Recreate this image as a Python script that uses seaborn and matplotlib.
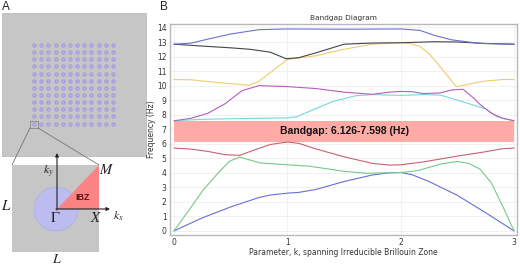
import numpy as np
import pandas as pd
import matplotlib
matplotlib.use('Agg')
import matplotlib.pyplot as plt
from matplotlib.patches import Rectangle, Circle, Polygon
import seaborn as sns

# band curves, (k, frequency)
band1_k = [0, .25, .5, .75, .85, 1, 1.1, 1.25, 1.5, 1.75, 1.9, 2, 2.1, 2.25, 2.5, 2.75, 3]
band1_f = [0, .9, 1.65, 2.3, 2.47, 2.6, 2.65, 2.85, 3.4, 3.85, 4.0, 4.02, 3.87, 3.4, 2.45, 1.25, 0]
band2_k = [0, .12, .26, .38, .49, .58, .76, 1, 1.2, 1.5, 1.7, 2, 2.15, 2.35, 2.5, 2.6, 2.7, 2.8, 2.9, 3]
band2_f = [0, 1.3, 2.84, 3.9, 4.8, 5.08, 4.68, 4.55, 4.45, 4.1, 3.97, 4.02, 4.15, 4.6, 4.78, 4.65, 4.25, 3.3, 1.7, 0]
band3_k = [0, .15, .3, .45, .58, .7, .85, 1, 1.1, 1.25, 1.5, 1.75, 1.9, 2, 2.2, 2.5, 2.75, 2.9, 3]
band3_f = [5.7, 5.63, 5.47, 5.25, 5.2, 5.55, 5.95, 6.12, 6.03, 5.65, 5.1, 4.65, 4.53, 4.55, 4.75, 5.15, 5.45, 5.66, 5.7]
band4_k = [0, .25, .5, .75, 1, 1.08, 1.2, 1.4, 1.6, 1.75, 2, 2.2, 2.35, 2.5, 2.75, 2.85, 3]
band4_f = [7.58, 7.68, 7.72, 7.75, 7.78, 7.85, 8.25, 8.9, 9.3, 9.38, 9.33, 9.38, 9.35, 9, 8.4, 7.85, 7.58]
band5_k = [0, .15, .3, .45, .6, .75, 1, 1.25, 1.5, 1.75, 1.9, 2, 2.1, 2.2, 2.35, 2.45, 2.55, 2.65, 2.7, 2.8, 2.9, 3]
band5_f = [7.58, 7.75, 8.1, 8.75, 9.65, 10, 9.93, 9.8, 9.55, 9.4, 9.55, 9.6, 9.58, 9.45, 9.5, 9.7, 9.75, 9.1, 8.7, 8.1, 7.75, 7.58]
band6_k = [0, .15, .4, .66, .75, .9, 1, 1.25, 1.5, 1.75, 2, 2.08, 2.17, 2.25, 2.32, 2.4, 2.49, 2.73, 2.9, 3]
band6_f = [10.42, 10.4, 10.2, 10.03, 10.3, 11.2, 11.8, 12.05, 12.5, 12.85, 12.95, 12.9, 12.7, 12.2, 11.57, 10.8, 9.93, 10.3, 10.42, 10.42]
band7_k = [0, .25, .5, .67, .85, .99, 1.1, 1.25, 1.5, 1.75, 2, 2.3, 2.5, 2.75, 3]
band7_f = [12.85, 12.72, 12.6, 12.5, 12.3, 11.85, 11.92, 12.25, 12.85, 12.93, 12.95, 13.02, 13, 12.9, 12.85]
band8_k = [0, .15, .3, .5, .75, 1, 1.5, 2, 2.17, 2.3, 2.45, 2.7, 3]
band8_f = [12.85, 12.92, 13.2, 13.55, 13.85, 13.9, 13.88, 13.9, 13.8, 13.45, 13.15, 12.9, 12.85]

band_k = [band1_k, band2_k, band3_k, band4_k, band5_k, band6_k, band7_k, band8_k]
band_f = [band1_f, band2_f, band3_f, band4_f, band5_f, band6_f, band7_f, band8_f]
band_colors = ['#6470d8', '#74c98c', '#c8626e', '#74d8d8', '#b85cc0', '#f0cc70', '#44444e', '#6a70d0']

gap_low = 6.126
gap_high = 7.598
gap_label = 'Bandgap: 6.126-7.598 (Hz)'
x_ticks = [0, 1, 2, 3]
y_ticks = list(range(15))

hole_cols = np.linspace(34, 113, 12)
hole_rows = np.linspace(45, 123.5, 12)

GRAY = '#c6c6c6'

sns.set_theme(style='white')
plt.rcParams['font.family'] = ['DejaVu Sans']
plt.rcParams['mathtext.fontset'] = 'stix'

W, H = 520, 266
fig = plt.figure(figsize=(W / 100, H / 100), dpi=100)

# panel A lives in pixel coordinates on a full-figure axes
pa = fig.add_axes([0, 0, 1, 1])
pa.set_xlim(0, W)
pa.set_ylim(H, 0)
pa.axis('off')
pa.add_patch(Rectangle((2, 13), 144, 143, fc=GRAY, ec='#b4b4b4', lw=0.5))

grid_x, grid_y = np.meshgrid(hole_cols, hole_rows)
holes = pd.DataFrame({'x': grid_x.ravel(), 'y': grid_y.ravel()})
sns.scatterplot(data=holes, x='x', y='y', ax=pa, s=5.5, color='#bcb8e0',
                edgecolor='#9d94e4', linewidth=0.7, legend=False)
pa.set_xlabel('')
pa.set_ylabel('')

pa.add_patch(Rectangle((30, 121), 8, 7, fc='none', ec='#777777', lw=0.5))
pa.plot([30, 12], [128, 165], color='#777777', lw=0.6)
pa.plot([38, 99], [128, 165], color='#777777', lw=0.6)

pa.add_patch(Rectangle((12, 165), 87, 87, fc=GRAY, ec='none'))
pa.add_patch(Circle((56, 209), 22, fc='#bcbcf0', ec='#b0b0e0', lw=0.5))
pa.add_patch(Polygon([(57, 209), (99, 209), (99, 165)], fc='#fa8484', ec='none'))
pa.annotate('', xy=(57, 153), xytext=(57, 210),
            arrowprops=dict(arrowstyle='-|>', color='#222222', lw=0.8, mutation_scale=5, shrinkA=0, shrinkB=0))
pa.annotate('', xy=(110, 209), xytext=(56, 209),
            arrowprops=dict(arrowstyle='-|>', color='#222222', lw=0.8, mutation_scale=5, shrinkA=0, shrinkB=0))

pa.text(83, 198, 'IBZ', fontsize=6.5, fontweight='bold', color='#5a1414', ha='center', va='center',
        family='Liberation Sans')
pa.text(48, 172, r'$k_y$', fontsize=8.5, ha='center', va='center', color='#222222')
pa.text(118, 216, r'$k_x$', fontsize=8.5, ha='center', va='center', color='#222222')
pa.text(107, 169, r'$M$', fontsize=10.5, ha='center', va='center', color='#222222')
pa.text(96, 218, r'$X$', fontsize=10.5, ha='center', va='center', color='#222222')
pa.text(55, 218, r'$\Gamma$', fontsize=10.5, ha='center', va='center', color='#222222')
pa.text(6, 205, r'$L$', fontsize=10.5, ha='center', va='center', color='#222222')
pa.text(57, 259, r'$L$', fontsize=10, ha='center', va='center', color='#222222')
pa.text(2, 7.5, 'A', fontsize=8.5, ha='left', va='center', family='Liberation Sans', color='#222222')
pa.text(160, 7.5, 'B', fontsize=8.5, ha='left', va='center', family='Liberation Sans', color='#222222')

# panel B, the band diagram
ax = fig.add_axes([170 / W, 1 - 235 / H, 347 / W, 211 / H])
rows = []
for i, (ks, fs) in enumerate(zip(band_k, band_f)):
    rows.append(pd.DataFrame({'k': ks, 'f': fs, 'band': i}))
bands = pd.concat(rows, ignore_index=True)

ax.axhspan(gap_low, gap_high, xmin=4 / 347, xmax=344 / 347, color='#ffaaa4', lw=0, zorder=1)
sns.lineplot(data=bands, x='k', y='f', hue='band', palette=band_colors, ax=ax,
             lw=0.8, legend=False, estimator=None, sort=False, zorder=3)
ax.text(1.5, (gap_low + gap_high) / 2, gap_label, fontsize=7.5, fontweight='bold', ha='center',
        va='center', family='Liberation Sans', color='#111111', zorder=4)

ax.set_xlim(-0.035, 3.026)
ax.set_ylim(-0.28, 14.24)
ax.set_xticks(x_ticks)
ax.set_yticks(y_ticks)
ax.grid(True, color='#ececec', lw=0.5)
ax.set_axisbelow(True)
ax.tick_params(axis='both', labelsize=5.5, length=1.5, width=0.4, pad=2.5, colors='#333333', direction='in')
ax.set_title('Bandgap Diagram', fontsize=5.3, pad=3, color='#333333')
ax.set_xlabel('Parameter, k, spanning Irreducible Brillouin Zone', fontsize=5.5, labelpad=0.5, color='#333333')
ax.set_ylabel('Frequency (Hz)', fontsize=5.5, labelpad=1, color='#333333')
for s in ax.spines.values():
    s.set_color('#b8b8b8')
    s.set_linewidth(1.0)

fig.savefig('out.png', dpi=100)
